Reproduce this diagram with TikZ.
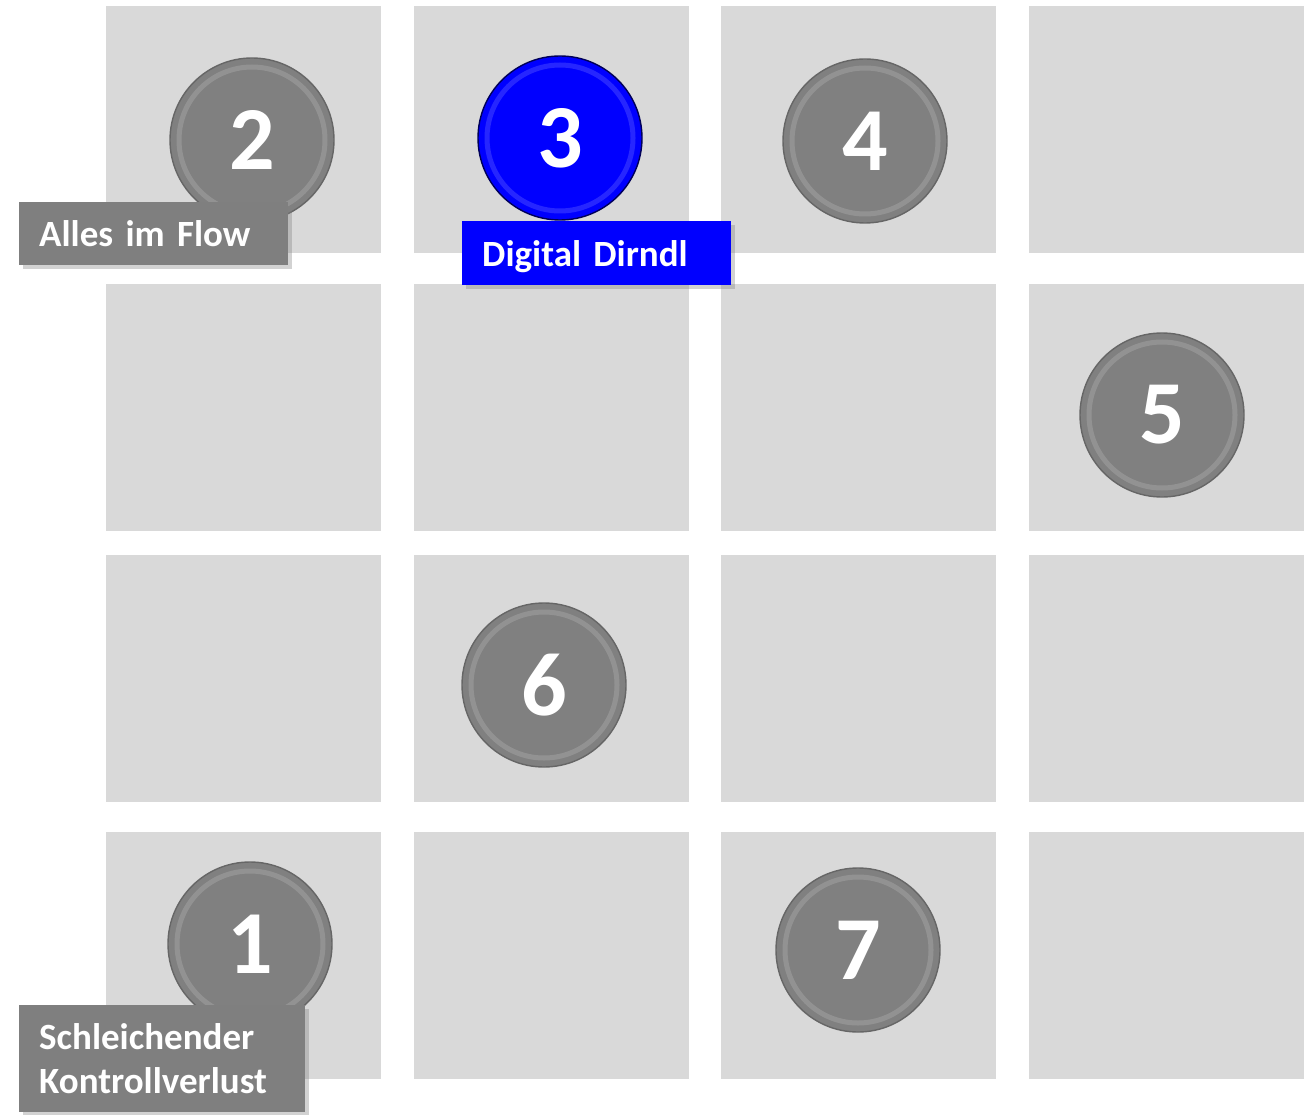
\documentclass[tikz,border=0pt]{standalone}
\usepackage{fontspec}
\setmainfont{Carlito}
\usetikzlibrary{shadows}
\definecolor{tilegray}{HTML}{D9D9D9}
\definecolor{ballgray}{HTML}{808080}
\definecolor{ballblue}{HTML}{0000FF}
\definecolor{taggray}{HTML}{7F7F7F}
\tikzset{
  tile/.style={fill=tilegray,draw=none},
  ball/.style={circle,minimum size=164pt,inner sep=0pt,fill=ballgray,draw=black!60,line width=1.4pt,
    text=white,font=\bfseries\fontsize{90}{90}\selectfont,
    path picture={\draw[white,opacity=0.15,line width=5pt] (path picture bounding box.center) circle (73pt);}},
  blueball/.style={ball,fill=ballblue,draw=blue!35!black},
  tag/.style={anchor=north west,fill=taggray,text=white,inner xsep=20pt,inner ysep=0pt,align=left,
    font=\bfseries\fontsize{37}{44}\selectfont,
    drop shadow={shadow xshift=4pt,shadow yshift=-4pt,opacity=0.35}},
  bluetag/.style={tag,fill=ballblue}
}
\begin{document}
\begin{tikzpicture}[x=1pt,y=-1pt]
\useasboundingbox[fill=white] (0,0) rectangle (1314,1115);
% grid of tiles
\foreach \col in {0,1,2,3}{
  \foreach \row/\top in {0/6,1/284,2/555,3/832}{
    \fill[tile] ({106+307.5*\col},\top) rectangle ++(275,247);
  }
}
% numbered balls
\node[ball] (b1) at (250,944) {1};
\node[ball] (b2) at (252,140) {2};
\node[blueball] (b3) at (560,138) {3};
\node[ball] (b4) at (865,141) {4};
\node[ball] (b5) at (1162,415) {5};
\node[ball] (b6) at (544,685) {6};
\node[ball] (b7) at (858,950) {7};
% labels
\node[tag,minimum width=269pt,minimum height=63pt,text width=229pt] (l2) at (19,202) {Alles im Flow};
\node[bluetag,minimum width=269pt,minimum height=64pt,text width=229pt,text depth=0pt] (l3) at (462,221) {Digital Dirndl};
\node[tag,minimum width=286pt,minimum height=107pt,text width=246pt] (l1) at (19,1005) {Schleichender\\Kontrollverlust};
\end{tikzpicture}
\end{document}
